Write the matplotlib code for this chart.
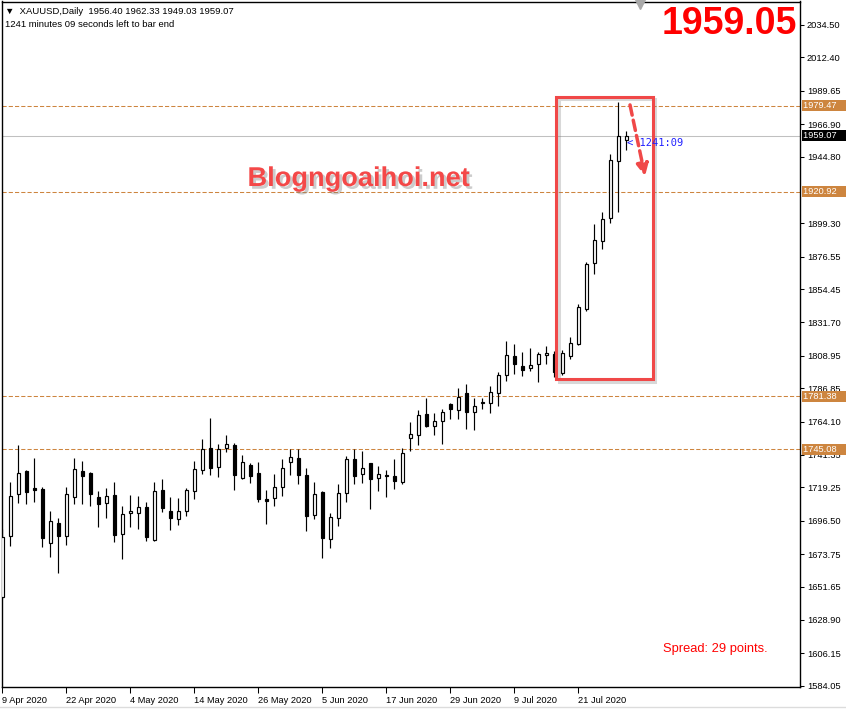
import matplotlib
matplotlib.use("Agg")
import matplotlib.pyplot as plt
import matplotlib.patheffects as pe
import matplotlib.transforms as mtransforms
from matplotlib.patches import Rectangle
from matplotlib.lines import Line2D

plt.rcParams['font.family'] = ['Liberation Sans', 'DejaVu Sans']

# daily XAUUSD bars, 9 Apr 2020 .. 29 Jul 2020
opens = [1644.7, 1686.3, 1714.5, 1730.4, 1718.8, 1718.1, 1681.1, 1694.7, 1686.3, 1712.9,
         1730.4, 1729.0, 1712.5, 1708.4, 1713.8, 1687.2, 1701.6, 1701.6, 1705.7, 1683.2,
         1717.3, 1702.9, 1697.5, 1702.9, 1716.6, 1730.9, 1745.9, 1732.9, 1745.9, 1747.9,
         1725.8, 1734.3, 1728.8, 1711.3, 1711.8, 1719.3, 1736.3, 1739.1, 1727.5, 1700.2,
         1715.9, 1683.8, 1698.2, 1715.2, 1738.4, 1728.2, 1735.7, 1725.4, 1727.5, 1726.8,
         1722.7, 1752.7, 1754.8, 1769.1, 1760.9, 1764.3, 1775.9, 1771.8, 1783.4, 1770.4,
         1776.8, 1776.6, 1783.4, 1795.7, 1808.6, 1801.8, 1800.4, 1803.2, 1809.3, 1810.0,
         1797.4, 1809.0, 1817.0, 1840.7, 1872.0, 1887.0, 1902.7, 1941.6, 1956.40]
highs = [1690.7, 1723.1, 1748.1, 1731.1, 1739.1, 1719.3, 1703.1, 1698.6, 1719.3, 1739.1,
         1737.2, 1729.6, 1716.8, 1718.6, 1722.7, 1706.3, 1713.8, 1713.2, 1709.1, 1722.7,
         1724.8, 1712.5, 1711.8, 1718.6, 1737.2, 1752.0, 1766.3, 1748.6, 1755.0, 1749.3,
         1741.1, 1735.7, 1736.3, 1717.5, 1728.4, 1738.4, 1745.2, 1745.2, 1732.2, 1722.7,
         1716.6, 1701.6, 1721.5, 1740.4, 1745.2, 1743.8, 1735.9, 1733.6, 1730.9, 1738.4,
         1745.9, 1763.6, 1771.8, 1780.0, 1769.8, 1772.5, 1776.6, 1786.8, 1789.7, 1780.0,
         1780.0, 1788.2, 1797.7, 1819.0, 1816.8, 1811.3, 1814.1, 1811.3, 1815.4, 1812.2,
         1812.9, 1821.6, 1844.3, 1873.1, 1898.8, 1907.2, 1946.5, 1981.8, 1962.33]
lows = [1643.4, 1679.5, 1708.4, 1707.7, 1709.1, 1678.8, 1672.0, 1661.1, 1680.2, 1707.7,
        1707.7, 1706.8, 1692.4, 1698.6, 1682.2, 1670.6, 1692.4, 1691.1, 1682.9, 1682.5,
        1702.7, 1690.4, 1693.8, 1699.9, 1711.1, 1728.6, 1727.9, 1726.5, 1743.2, 1717.7,
        1725.2, 1722.4, 1709.5, 1694.5, 1706.8, 1713.6, 1727.9, 1721.8, 1689.7, 1697.9,
        1671.3, 1678.1, 1693.1, 1709.1, 1721.8, 1722.4, 1704.7, 1717.0, 1712.9, 1718.3,
        1721.8, 1743.8, 1747.9, 1760.6, 1754.8, 1748.6, 1765.7, 1765.7, 1759.2, 1758.2,
        1772.9, 1769.8, 1774.5, 1792.0, 1796.3, 1795.0, 1798.4, 1790.9, 1803.2, 1794.5,
        1795.9, 1806.6, 1816.3, 1839.7, 1864.5, 1881.6, 1899.7, 1907.2, 1949.03]
closes = [1685.2, 1713.4, 1729.0, 1716.3, 1717.5, 1684.5, 1696.1, 1685.9, 1714.5, 1731.6,
          1727.2, 1714.5, 1708.1, 1713.2, 1687.0, 1700.9, 1702.9, 1705.7, 1685.6, 1716.6,
          1705.0, 1698.2, 1702.9, 1717.3, 1731.6, 1745.2, 1732.7, 1745.2, 1748.6, 1727.9,
          1736.3, 1727.2, 1711.5, 1709.8, 1719.3, 1732.2, 1739.7, 1727.9, 1699.9, 1714.5,
          1684.9, 1698.8, 1715.2, 1738.4, 1727.2, 1732.2, 1725.2, 1728.2, 1726.8, 1723.4,
          1742.5, 1755.4, 1768.4, 1760.9, 1764.3, 1770.4, 1772.5, 1780.7, 1770.4, 1774.5,
          1777.3, 1784.1, 1795.7, 1809.3, 1803.2, 1799.1, 1802.5, 1810.0, 1810.7, 1797.7,
          1810.7, 1817.5, 1842.0, 1871.5, 1887.7, 1902.0, 1942.5, 1958.8, 1959.07]

date_labels = ["9 Apr 2020", "22 Apr 2020", "4 May 2020", "14 May 2020", "26 May 2020",
               "5 Jun 2020", "17 Jun 2020", "29 Jun 2020", "9 Jul 2020", "21 Jul 2020"]
date_label_bars = [0, 8, 16, 24, 32, 40, 48, 56, 64, 72]

price_ticks = [2034.50, 2012.40, 1989.65, 1966.90, 1944.80, 1899.30, 1876.55, 1854.45,
               1831.70, 1808.95, 1786.85, 1764.10, 1741.35, 1719.25, 1696.50, 1673.75,
               1651.65, 1628.90, 1606.15, 1584.05]

levels = [1979.47, 1920.92, 1781.38, 1745.08]
last_price = 1959.07

# marked zone and arrow (bar index, price)
box_x = [69.2, 81.3]
box_y = [1793.3, 1985.6]
arrow_start = (78.46, 1980.0)
arrow_end = (80.34, 1931.5)

W, H = 846, 710
fig = plt.figure(figsize=(W / 100, H / 100), dpi=100)
ax = fig.add_axes([1.7 / W, (H - 687.3) / H, (800 - 1.7) / W, (687.3 - 1.5) / H])
ax.set_xlim(-0.075, 99.71)
ax.set_ylim(1582.93, 2050.52)

# level lines
for lv in levels:
    ax.axhline(lv, color='#CD853F', lw=0.75, ls=(0, (4, 2)), zorder=1)
ax.axhline(last_price, color='#C0C0C0', lw=0.75, zorder=1)

# candles
xs = list(range(len(opens)))
ax.vlines(xs, lows, highs, color='black', lw=0.85, zorder=2)
bottoms = [min(o, c) for o, c in zip(opens, closes)]
heights = [abs(c - o) for o, c in zip(opens, closes)]
faces = ['white' if c >= o else 'black' for o, c in zip(opens, closes)]
ax.bar(xs, heights, bottom=bottoms, width=0.42, color=faces, edgecolor='black',
       linewidth=0.85, zorder=3)

# axes look
for s in ax.spines.values():
    s.set_color('black')
    s.set_linewidth(1.0)
ax.yaxis.tick_right()
ax.set_yticks(price_ticks)
ax.set_yticklabels([f"{v:.2f}" for v in price_ticks])
ax.tick_params(axis='y', direction='out', length=3, width=0.75, pad=2, labelsize=6.7)
ax.set_xticks(date_label_bars)
ax.set_xticklabels(date_labels, ha='left')
ax.tick_params(axis='x', direction='out', length=4, width=0.75, pad=2, labelsize=6.7)

trans = mtransforms.blended_transform_factory(ax.transAxes, ax.transData)
for lv in levels:
    ax.text(1.0035, lv, f"{lv:.2f}    ", transform=trans, ha='left', va='center',
            fontsize=6.7, color='white', clip_on=False, zorder=10,
            bbox=dict(boxstyle='square,pad=0.12', fc='#CD853F', ec='none'))
ax.text(1.0035, last_price, f"{last_price:.2f}    ", transform=trans, ha='left',
        va='center', fontsize=6.7, color='white', clip_on=False, zorder=10,
        bbox=dict(boxstyle='square,pad=0.12', fc='black', ec='none'))

# red zone box with soft shadow
rect = Rectangle((box_x[0], box_y[0]), box_x[1] - box_x[0], box_y[1] - box_y[0],
                 fill=False, ec='#F04848', lw=2.2, zorder=4)
rect.set_path_effects([pe.SimpleLineShadow(offset=(2, -2), shadow_color='gray', alpha=0.3),
                       pe.Normal()])
ax.add_patch(rect)

ax.annotate('', xy=arrow_end, xytext=arrow_start, zorder=5,
            arrowprops=dict(arrowstyle='-|>,head_width=0.35,head_length=0.7',
                            ls=(0, (3, 1.5)), lw=2.5, color='#F04848',
                            shrinkA=0, shrinkB=0))

# countdown next to last bar
ax.text(len(closes) - 1 + 0.1, last_price - 5, "< 1241:09", fontsize=7.5,
        family='DejaVu Sans Mono', color='#2020FF', ha='left', va='center', zorder=6)

# chart shift marker
tri = mtransforms.blended_transform_factory(ax.transData, ax.transAxes)
ax.plot([79.7], [0.9975], transform=tri, marker='v', ms=8, color='#A9A9A9',
        clip_on=False, zorder=6)

# overlay texts
fig.text(5 / W, 1 - 12 / H, "▼  XAUUSD,Daily  1956.40 1962.33 1949.03 1959.07",
         fontsize=6.8, va='center', ha='left', family=['Liberation Sans', 'DejaVu Sans'])
fig.text(5 / W, 1 - 24.5 / H, "1241 minutes 09 seconds left to bar end",
         fontsize=6.8, va='center', ha='left')
fig.text(797 / W, 1 - 24 / H, "1959.05", fontsize=27, fontweight='bold', color='#FF0000',
         ha='right', va='center')
fig.text(359 / W, 1 - 179 / H, "Blogngoaihoi.net", fontsize=19.6, fontweight='bold',
         color='#F44848', ha='center', va='center',
         path_effects=[pe.SimplePatchShadow(offset=(2, -2), shadow_rgbFace='gray', alpha=0.4),
                       pe.Normal()])
fig.text(663 / W, 1 - 649 / H, "Spread: 29 points.", fontsize=9.3, color='#FF0000',
         ha='left', va='center')

fig.add_artist(Line2D([0, 1], [3.3 / H, 3.3 / H], transform=fig.transFigure,
                      color='#DCDCDC', lw=1))

fig.savefig("out.png", dpi=100)
